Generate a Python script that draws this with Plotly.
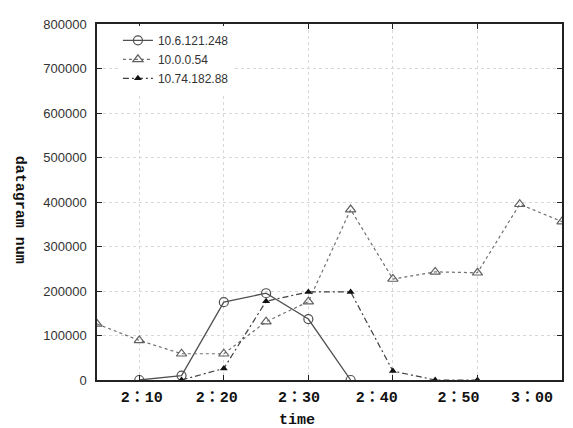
import plotly.graph_objects as go

# ---- data ----
S1_NAME = "10.6.121.248"
S1_X = [1, 2, 3, 4, 5, 6]
S1_Y = [0, 10000, 175000, 195000, 137000, 0]

S2_NAME = "10.0.0.54"
S2_X = [0, 1, 2, 3, 4, 5, 6, 7, 8, 9, 10, 11]
S2_Y = [126000, 89000, 59000, 59000, 131000, 176000, 383000, 227000, 243000, 241000, 395000, 356000]

S3_NAME = "10.74.182.88"
S3_X = [2, 3, 4, 5, 6, 7, 8, 9]
S3_Y = [0, 26000, 177000, 198000, 198000, 20000, 0, 0]

TIME_LABELS = ["2：10", "2：20", "2：30", "2：40", "2：50", "3：00"]
TIME_LABEL_POS = [1.06, 2.83, 4.78, 6.62, 8.55, 10.29]
GRID_X = [1, 3, 5, 7, 9, 11]
Y_TICKS = [0, 100000, 200000, 300000, 400000, 500000, 600000, 700000, 800000]

fig = go.Figure()
fig.add_trace(go.Scatter(
    x=S1_X, y=S1_Y, name=S1_NAME, mode="lines+markers",
    line=dict(color="#505050", width=1.3, dash="solid"),
    marker=dict(symbol="circle-open", size=9, color="#505050", line=dict(width=1.2)),
))
fig.add_trace(go.Scatter(
    x=S2_X, y=S2_Y, name=S2_NAME, mode="lines+markers",
    line=dict(color="#707070", width=1.2, dash="3px,3px"),
    marker=dict(symbol="triangle-up-open", size=9, color="#606060", line=dict(width=1.2)),
))
fig.add_trace(go.Scatter(
    x=S3_X, y=S3_Y, name=S3_NAME, mode="lines+markers",
    line=dict(color="#404040", width=1.2, dash="6px,3px,2px,3px"),
    marker=dict(symbol="triangle-up", size=7, color="#111111"),
))
# invisible trace to carry the label axis
fig.add_trace(go.Scatter(x=[0, 11], y=[0, 0], xaxis="x2", mode="markers",
                         marker=dict(opacity=0), showlegend=False, hoverinfo="skip"))

fig.update_layout(
    width=565, height=420,
    margin=dict(l=89, r=9, t=9, b=48),
    paper_bgcolor="white", plot_bgcolor="white",
    font=dict(family="Liberation Sans, Arial, sans-serif", size=13, color="#333333"),
    showlegend=True,
    legend=dict(x=0.045, y=0.995, xanchor="left", yanchor="top",
                bgcolor="white", borderwidth=0,
                font=dict(size=12, color="#333333"),
                itemwidth=30, tracegroupgap=0),
    xaxis=dict(range=[0, 11], tickvals=GRID_X, showticklabels=False,
               showgrid=True, gridcolor="#d8d8d8", griddash="dot", gridwidth=1,
               ticks="inside", ticklen=5, tickcolor="#222", mirror="ticks",
               showline=True, linecolor="#222", linewidth=1.5, zeroline=False),
    xaxis2=dict(range=[0, 11], overlaying="x", side="bottom",
                tickvals=TIME_LABEL_POS, ticktext=TIME_LABELS,
                ticks="", showgrid=False, showline=False, zeroline=False,
                ticklabelstandoff=6,
                tickfont=dict(family="Liberation Mono, Noto Sans CJK JP, monospace",
                              size=15, color="#111111", weight="bold")),
    yaxis=dict(range=[0, 800000], tickvals=Y_TICKS, tickformat="d",
               showgrid=True, gridcolor="#d8d8d8", griddash="dot", gridwidth=1,
               ticks="inside", ticklen=5, tickcolor="#222", mirror="ticks",
               showline=True, linecolor="#222", linewidth=1.5, zeroline=False,
               ticklabelstandoff=6,
               tickfont=dict(size=13, color="#333333")),
    annotations=[
        dict(text="time", xref="paper", yref="paper", x=0.43, y=-0.113,
             showarrow=False, xanchor="center", yanchor="middle",
             font=dict(family="Liberation Mono, monospace", size=15, color="#111111", weight="bold")),
        dict(text="datagram num", xref="paper", yref="paper", x=-0.167, y=0.477,
             showarrow=False, textangle=90, xanchor="center", yanchor="middle",
             font=dict(family="Liberation Mono, monospace", size=15, color="#111111", weight="bold")),
    ],
)

fig.write_html("out.html")
